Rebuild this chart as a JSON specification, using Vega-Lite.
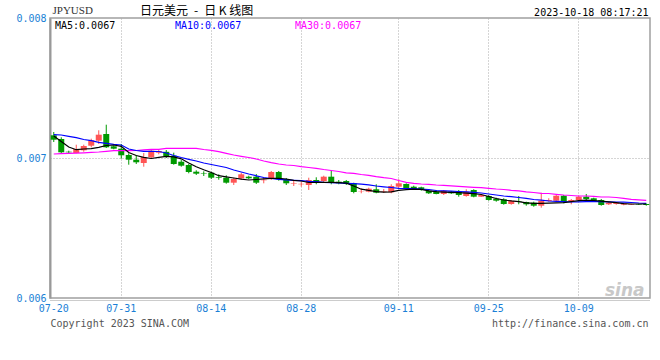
{
"$schema": "https://vega.github.io/schema/vega-lite/v6.json",
"width": 600, "height": 280,
"autosize": {"type": "none"},
"padding": {"left": 50, "top": 18, "right": 10, "bottom": 62},
"background": "white",
"config": {"view": {"stroke": "#a0a0a0", "strokeWidth": 1.5}, "font": "DejaVu Sans Mono"},
"title": {"text": "日元美元\u2002-\u2002日 K 线图", "anchor": "start", "frame": "group", "dx": 90, "offset": -23, "baseline": "alphabetic", "font": "Noto Sans CJK SC", "fontSize": 12, "fontWeight": "normal", "color": "#000000"},
"data": {"values": [
{"d":"07-20","o":0.0071622,"h":0.0071857,"l":0.0071143,"c":0.0071307,"MA5":0.0071572,"MA10":0.0071665,"MA30":0.0070286},
{"d":"07-21","o":0.0071357,"h":0.0071479,"l":0.0070307,"c":0.0070407,"MA5":0.0071179,"MA10":0.0071643,"MA30":0.0070307},
{"d":"07-22","o":0.0070450,"h":0.0070522,"l":0.0070336,"c":0.0070407,"MA5":0.0070786,"MA10":0.0071550,"MA30":0.0070329},
{"d":"07-24","o":0.0070357,"h":0.0070950,"l":0.0070336,"c":0.0070643,"MA5":0.0070593,"MA10":0.0071450,"MA30":0.0070350},
{"d":"07-25","o":0.0070550,"h":0.0070950,"l":0.0070450,"c":0.0070857,"MA5":0.0070643,"MA10":0.0071322,"MA30":0.0070372},
{"d":"07-26","o":0.0070879,"h":0.0071379,"l":0.0070765,"c":0.0071265,"MA5":0.0070665,"MA10":0.0071236,"MA30":0.0070400},
{"d":"07-27","o":0.0071236,"h":0.0071979,"l":0.0071000,"c":0.0071665,"MA5":0.0070765,"MA10":0.0071122,"MA30":0.0070429},
{"d":"07-28","o":0.0071715,"h":0.0072379,"l":0.0070715,"c":0.0070765,"MA5":0.0070893,"MA10":0.0071050,"MA30":0.0070479},
{"d":"07-29","o":0.0070836,"h":0.0070893,"l":0.0070622,"c":0.0070665,"MA5":0.0070929,"MA10":0.0070979,"MA30":0.0070522},
{"d":"07-31","o":0.0070665,"h":0.0071000,"l":0.0069950,"c":0.0070193,"MA5":0.0070836,"MA10":0.0070929,"MA30":0.0070522},
{"d":"08-01","o":0.0070215,"h":0.0070336,"l":0.0069522,"c":0.0069879,"MA5":0.0070393,"MA10":0.0070643,"MA30":0.0070522},
{"d":"08-02","o":0.0069879,"h":0.0070193,"l":0.0069572,"c":0.0069693,"MA5":0.0070179,"MA10":0.0070536,"MA30":0.0070536},
{"d":"08-03","o":0.0069643,"h":0.0070357,"l":0.0069379,"c":0.0070072,"MA5":0.0070050,"MA10":0.0070479,"MA30":0.0070586},
{"d":"08-04","o":0.0070050,"h":0.0070593,"l":0.0069950,"c":0.0070522,"MA5":0.0069965,"MA10":0.0070479,"MA30":0.0070622},
{"d":"08-05","o":0.0070379,"h":0.0070572,"l":0.0070265,"c":0.0070500,"MA5":0.0070050,"MA10":0.0070465,"MA30":0.0070622},
{"d":"08-07","o":0.0070443,"h":0.0070572,"l":0.0070000,"c":0.0070129,"MA5":0.0070122,"MA10":0.0070357,"MA30":0.0070693},
{"d":"08-08","o":0.0070165,"h":0.0070379,"l":0.0069522,"c":0.0069572,"MA5":0.0070086,"MA10":0.0070179,"MA30":0.0070693},
{"d":"08-09","o":0.0069736,"h":0.0069857,"l":0.0069379,"c":0.0069450,"MA5":0.0069943,"MA10":0.0070036,"MA30":0.0070693},
{"d":"08-10","o":0.0069500,"h":0.0069572,"l":0.0068907,"c":0.0069000,"MA5":0.0069643,"MA10":0.0069907,"MA30":0.0070693},
{"d":"08-11","o":0.0069022,"h":0.0069122,"l":0.0068786,"c":0.0068879,"MA5":0.0069379,"MA10":0.0069786,"MA30":0.0070693},
{"d":"08-12","o":0.0068929,"h":0.0069050,"l":0.0068715,"c":0.0068893,"MA5":0.0069157,"MA10":0.0069643,"MA30":0.0070607},
{"d":"08-14","o":0.0068950,"h":0.0069022,"l":0.0068500,"c":0.0068593,"MA5":0.0068965,"MA10":0.0069536,"MA30":0.0070550},
{"d":"08-15","o":0.0068643,"h":0.0068836,"l":0.0068450,"c":0.0068593,"MA5":0.0068736,"MA10":0.0069429,"MA30":0.0070450},
{"d":"08-16","o":0.0068593,"h":0.0068765,"l":0.0068165,"c":0.0068236,"MA5":0.0068650,"MA10":0.0069322,"MA30":0.0070336},
{"d":"08-17","o":0.0068236,"h":0.0068593,"l":0.0068072,"c":0.0068500,"MA5":0.0068572,"MA10":0.0069143,"MA30":0.0070215},
{"d":"08-18","o":0.0068550,"h":0.0068950,"l":0.0068429,"c":0.0068836,"MA5":0.0068486,"MA10":0.0069000,"MA30":0.0070122},
{"d":"08-19","o":0.0068665,"h":0.0068736,"l":0.0068479,"c":0.0068550,"MA5":0.0068429,"MA10":0.0068857,"MA30":0.0070036},
{"d":"08-21","o":0.0068665,"h":0.0068857,"l":0.0068143,"c":0.0068236,"MA5":0.0068465,"MA10":0.0068729,"MA30":0.0069929},
{"d":"08-22","o":0.0068407,"h":0.0068622,"l":0.0068193,"c":0.0068450,"MA5":0.0068507,"MA10":0.0068607,"MA30":0.0069786},
{"d":"08-23","o":0.0068500,"h":0.0069072,"l":0.0068429,"c":0.0069000,"MA5":0.0068550,"MA10":0.0068536,"MA30":0.0069665},
{"d":"08-24","o":0.0069000,"h":0.0069072,"l":0.0068379,"c":0.0068479,"MA5":0.0068550,"MA10":0.0068479,"MA30":0.0069572},
{"d":"08-25","o":0.0068500,"h":0.0068572,"l":0.0068072,"c":0.0068193,"MA5":0.0068500,"MA10":0.0068443,"MA30":0.0069500},
{"d":"08-26","o":0.0068143,"h":0.0068357,"l":0.0068000,"c":0.0068179,"MA5":0.0068407,"MA10":0.0068407,"MA30":0.0069465},
{"d":"08-28","o":0.0068122,"h":0.0068307,"l":0.0067950,"c":0.0068157,"MA5":0.0068357,"MA10":0.0068379,"MA30":0.0069379},
{"d":"08-29","o":0.0068072,"h":0.0068593,"l":0.0067715,"c":0.0068429,"MA5":0.0068250,"MA10":0.0068336,"MA30":0.0069322},
{"d":"08-30","o":0.0068429,"h":0.0068622,"l":0.0068122,"c":0.0068307,"MA5":0.0068257,"MA10":0.0068307,"MA30":0.0069265},
{"d":"08-31","o":0.0068357,"h":0.0068736,"l":0.0068265,"c":0.0068665,"MA5":0.0068265,"MA10":0.0068265,"MA30":0.0069179},
{"d":"09-01","o":0.0068665,"h":0.0069143,"l":0.0068122,"c":0.0068236,"MA5":0.0068257,"MA10":0.0068236,"MA30":0.0069107},
{"d":"09-02","o":0.0068307,"h":0.0068429,"l":0.0068122,"c":0.0068193,"MA5":0.0068236,"MA10":0.0068215,"MA30":0.0069036},
{"d":"09-03","o":0.0068357,"h":0.0068429,"l":0.0068072,"c":0.0068143,"MA5":0.0068207,"MA10":0.0068193,"MA30":0.0068943},
{"d":"09-04","o":0.0068193,"h":0.0068236,"l":0.0067479,"c":0.0067572,"MA5":0.0068000,"MA10":0.0068165,"MA30":0.0068907},
{"d":"09-05","o":0.0067572,"h":0.0067836,"l":0.0067479,"c":0.0067593,"MA5":0.0067772,"MA10":0.0068129,"MA30":0.0068822},
{"d":"09-06","o":0.0067593,"h":0.0067879,"l":0.0067550,"c":0.0067807,"MA5":0.0067686,"MA10":0.0068086,"MA30":0.0068765},
{"d":"09-07","o":0.0067765,"h":0.0068122,"l":0.0067479,"c":0.0067522,"MA5":0.0067600,"MA10":0.0068000,"MA30":0.0068665},
{"d":"09-08","o":0.0067572,"h":0.0067786,"l":0.0067500,"c":0.0067607,"MA5":0.0067565,"MA10":0.0067943,"MA30":0.0068593},
{"d":"09-09","o":0.0067550,"h":0.0068122,"l":0.0067479,"c":0.0068000,"MA5":0.0067586,"MA10":0.0067893,"MA30":0.0068536},
{"d":"09-11","o":0.0067950,"h":0.0068479,"l":0.0067836,"c":0.0068193,"MA5":0.0067686,"MA10":0.0067836,"MA30":0.0068393},
{"d":"09-12","o":0.0068143,"h":0.0068193,"l":0.0067765,"c":0.0067836,"MA5":0.0067736,"MA10":0.0067822,"MA30":0.0068265},
{"d":"09-13","o":0.0067950,"h":0.0068022,"l":0.0067715,"c":0.0067786,"MA5":0.0067772,"MA10":0.0067807,"MA30":0.0068193},
{"d":"09-14","o":0.0067907,"h":0.0067950,"l":0.0067665,"c":0.0067786,"MA5":0.0067765,"MA10":0.0067772,"MA30":0.0068143},
{"d":"09-15","o":0.0067665,"h":0.0067765,"l":0.0067429,"c":0.0067479,"MA5":0.0067650,"MA10":0.0067750,"MA30":0.0068122},
{"d":"09-16","o":0.0067593,"h":0.0067715,"l":0.0067407,"c":0.0067429,"MA5":0.0067593,"MA10":0.0067679,"MA30":0.0068072},
{"d":"09-18","o":0.0067429,"h":0.0067715,"l":0.0067357,"c":0.0067665,"MA5":0.0067565,"MA10":0.0067650,"MA30":0.0068050},
{"d":"09-19","o":0.0067593,"h":0.0067643,"l":0.0067429,"c":0.0067479,"MA5":0.0067543,"MA10":0.0067629,"MA30":0.0068015},
{"d":"09-20","o":0.0067593,"h":0.0067715,"l":0.0067236,"c":0.0067357,"MA5":0.0067522,"MA10":0.0067607,"MA30":0.0067979},
{"d":"09-21","o":0.0067286,"h":0.0067765,"l":0.0067236,"c":0.0067593,"MA5":0.0067493,"MA10":0.0067586,"MA30":0.0067943},
{"d":"09-22","o":0.0067715,"h":0.0067765,"l":0.0067193,"c":0.0067236,"MA5":0.0067457,"MA10":0.0067550,"MA30":0.0067907},
{"d":"09-23","o":0.0067236,"h":0.0067379,"l":0.0067215,"c":0.0067357,"MA5":0.0067393,"MA10":0.0067500,"MA30":0.0067879},
{"d":"09-25","o":0.0067286,"h":0.0067357,"l":0.0066950,"c":0.0067000,"MA5":0.0067250,"MA10":0.0067429,"MA30":0.0067836},
{"d":"09-26","o":0.0067093,"h":0.0067165,"l":0.0066879,"c":0.0066950,"MA5":0.0067107,"MA10":0.0067357,"MA30":0.0067786},
{"d":"09-27","o":0.0067050,"h":0.0067122,"l":0.0066665,"c":0.0066715,"MA5":0.0067000,"MA10":0.0067286,"MA30":0.0067750},
{"d":"09-28","o":0.0066715,"h":0.0067000,"l":0.0066665,"c":0.0066929,"MA5":0.0066936,"MA10":0.0067236,"MA30":0.0067693},
{"d":"09-29","o":0.0066893,"h":0.0067286,"l":0.0066693,"c":0.0066857,"MA5":0.0066886,"MA10":0.0067179,"MA30":0.0067657},
{"d":"09-30","o":0.0066857,"h":0.0066879,"l":0.0066593,"c":0.0066693,"MA5":0.0066800,"MA10":0.0067122,"MA30":0.0067586},
{"d":"10-02","o":0.0066807,"h":0.0066879,"l":0.0066522,"c":0.0066593,"MA5":0.0066765,"MA10":0.0067036,"MA30":0.0067536},
{"d":"10-03","o":0.0066593,"h":0.0067522,"l":0.0066450,"c":0.0066950,"MA5":0.0066765,"MA10":0.0066986,"MA30":0.0067479},
{"d":"10-04","o":0.0066929,"h":0.0067122,"l":0.0066879,"c":0.0067000,"MA5":0.0066779,"MA10":0.0066929,"MA30":0.0067465},
{"d":"10-05","o":0.0066950,"h":0.0067357,"l":0.0066857,"c":0.0067307,"MA5":0.0066793,"MA10":0.0066900,"MA30":0.0067407},
{"d":"10-06","o":0.0067307,"h":0.0067357,"l":0.0066765,"c":0.0066879,"MA5":0.0066815,"MA10":0.0066879,"MA30":0.0067357},
{"d":"10-07","o":0.0066929,"h":0.0067072,"l":0.0066693,"c":0.0067000,"MA5":0.0066886,"MA10":0.0066857,"MA30":0.0067322},
{"d":"10-09","o":0.0067000,"h":0.0067307,"l":0.0066950,"c":0.0067236,"MA5":0.0066950,"MA10":0.0066872,"MA30":0.0067286},
{"d":"10-10","o":0.0067236,"h":0.0067429,"l":0.0067000,"c":0.0067072,"MA5":0.0066993,"MA10":0.0066879,"MA30":0.0067286},
{"d":"10-11","o":0.0067122,"h":0.0067165,"l":0.0066907,"c":0.0066950,"MA5":0.0066965,"MA10":0.0066879,"MA30":0.0067265},
{"d":"10-12","o":0.0067000,"h":0.0067072,"l":0.0066593,"c":0.0066643,"MA5":0.0066915,"MA10":0.0066879,"MA30":0.0067215},
{"d":"10-13","o":0.0066693,"h":0.0066857,"l":0.0066643,"c":0.0066807,"MA5":0.0066865,"MA10":0.0066872,"MA30":0.0067215},
{"d":"10-14","o":0.0066715,"h":0.0066836,"l":0.0066665,"c":0.0066807,"MA5":0.0066807,"MA10":0.0066857,"MA30":0.0067179},
{"d":"10-15","o":0.0066665,"h":0.0066786,"l":0.0066622,"c":0.0066765,"MA5":0.0066743,"MA10":0.0066850,"MA30":0.0067122},
{"d":"10-16","o":0.0066665,"h":0.0066736,"l":0.0066643,"c":0.0066715,"MA5":0.0066715,"MA10":0.0066822,"MA30":0.0067050},
{"d":"10-17","o":0.0066715,"h":0.0066750,"l":0.0066643,"c":0.0066679,"MA5":0.0066715,"MA10":0.0066786,"MA30":0.0067015},
{"d":"10-18","o":0.0066715,"h":0.0066736,"l":0.0066593,"c":0.0066643,"MA5":0.0066715,"MA10":0.0066765,"MA30":0.0066979}
]},
"resolve": {"axis": {"x": "independent", "y": "independent"}},
"layer": [
{
"mark": {"type": "rule", "strokeWidth": 1},
"encoding": {
"x": {"field": "d", "type": "ordinal", "sort": null, "scale": {"type": "band", "paddingInner": 0, "paddingOuter": 0},
 "axis": {"orient": "bottom", "values": ["07-20","07-31","08-14","08-28","09-11","09-25","10-09"], "labelAngle": 0, "labelFont": "DejaVu Sans Mono", "labelFontSize": 10, "labelColor": "#1a7fd6", "ticks": false, "tickSize": 0, "labelPadding": 3, "domain": true, "domainColor": "#999999", "domainDash": [1,1], "domainWidth": 1, "offset": 2, "grid": true, "gridColor": "#aaaaaa", "gridDash": [1,2], "gridOpacity": {"condition": {"test": "datum.value == '07-20'", "value": 0}, "value": 1}, "title": "Copyright 2023 SINA.COM", "titleX": 0, "titleY": 26, "titleAlign": "left", "titleAnchor": null, "titleBaseline": "alphabetic", "titleFont": "DejaVu Sans Mono", "titleFontSize": 10, "titleFontWeight": "normal", "titleColor": "#555555"}},
"y": {"field": "l", "type": "quantitative", "scale": {"domain": [0.006, 0.008], "zero": false, "nice": false},
 "axis": {"orient": "left", "values": [0.006, 0.007, 0.008], "format": ".3f", "labelFont": "DejaVu Sans Mono", "labelFontSize": 10, "labelColor": "#1a7fd6", "ticks": false, "tickSize": 0, "labelPadding": 4, "labelFlush": false, "domain": true, "domainColor": "#999999", "domainWidth": 2, "grid": true, "gridColor": "#aaaaaa", "gridDash": [1,2], "gridOpacity": {"condition": {"test": "datum.value == 0.007", "value": 1}, "value": 0}, "title": "JPYUSD", "titleAngle": 0, "titleX": 2, "titleY": -5, "titleAlign": "left", "titleBaseline": "alphabetic", "titleFont": "Liberation Serif", "titleFontSize": 11, "titleFontWeight": "normal", "titleColor": "#333333"}},
"y2": {"field": "h"},
"color": {"condition": {"test": "datum.c > datum.o", "value": "#ff5555"}, "value": "#009900"}
}
},
{
"mark": {"type": "bar", "size": 6},
"encoding": {
"x": {"field": "d", "type": "ordinal", "sort": null,
 "axis": {"orient": "top", "labels": false, "ticks": false, "domain": false, "grid": false, "title": "2023-10-18 08:17:21", "titleX": 598, "titleY": -3, "titleAlign": "right", "titleAnchor": null, "titleBaseline": "alphabetic", "titleFont": "DejaVu Sans Mono", "titleFontSize": 10, "titleFontWeight": "normal", "titleColor": "#000000"}},
"y": {"field": "o", "type": "quantitative", "axis": null},
"y2": {"field": "c"},
"color": {"condition": {"test": "datum.c > datum.o", "value": "#ff5555"}, "value": "#009900"}
}
},
{
"transform": [{"fold": ["MA30", "MA10", "MA5"], "as": ["ma", "v"]}],
"mark": {"type": "line", "strokeWidth": 1.2},
"encoding": {
"x": {"field": "d", "type": "ordinal", "sort": null, "axis": null},
"y": {"field": "v", "type": "quantitative",
 "axis": {"orient": "right", "values": [0.00602], "labelExpr": "'sina'", "labelAlign": "right", "labelPadding": -6, "labelFont": "DejaVu Sans", "labelFontSize": 17, "labelFontStyle": "italic", "labelFontWeight": "bold", "labelColor": "#c8c8c8", "labelBaseline": "alphabetic", "ticks": false, "tickSize": 0, "domain": false, "grid": false, "title": "http://finance.sina.com.cn", "titleAngle": 0, "titleX": -2, "titleY": 308, "titleAlign": "right", "titleAnchor": null, "titleBaseline": "alphabetic", "titleFont": "DejaVu Sans Mono", "titleFontSize": 10, "titleFontWeight": "normal", "titleColor": "#555555"}},
"color": {"field": "ma", "type": "nominal", "scale": {"domain": ["MA5", "MA10", "MA30"], "range": ["#000000", "#0000ff", "#ff00ff"]},
 "legend": {"orient": "none", "legendX": -5, "legendY": 3, "direction": "horizontal", "columns": 3, "gridAlign": "all", "columnPadding": 43, "title": null, "padding": 0, "symbolOpacity": 0, "symbolSize": 0, "symbolStrokeWidth": 0, "labelOffset": 0, "labelFont": "DejaVu Sans Mono", "labelFontSize": 10, "labelExpr": "datum.label + ':0.0067'", "labelColor": {"expr": "datum.value == 'MA5' ? '#000000' : datum.value == 'MA10' ? '#0000ff' : '#ff00ff'"}}}
}
}
]
}
